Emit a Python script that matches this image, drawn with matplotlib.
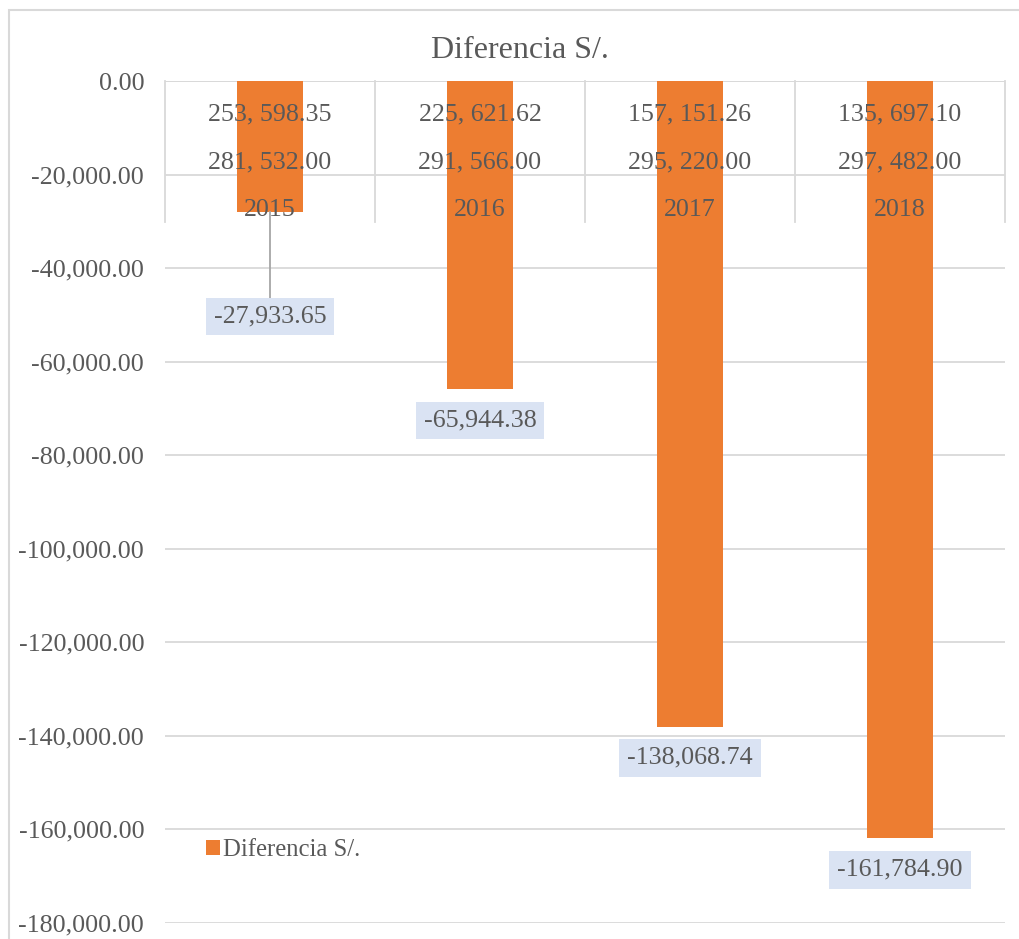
import matplotlib
matplotlib.use("Agg")
import matplotlib.pyplot as plt
from matplotlib.patches import Rectangle

plt.rcParams['font.family'] = ['Liberation Serif', 'DejaVu Serif']

# data
years = ["2015", "2016", "2017", "2018"]
row1 = ["253, 598.35", "225, 621.62", "157, 151.26", "135, 697.10"]
row2 = ["281, 532.00", "291, 566.00", "295, 220.00", "297, 482.00"]
diferencia = [-27933.65, -65944.38, -138068.74, -161784.90]
yticks = [0, -20000, -40000, -60000, -80000, -100000, -120000, -140000, -160000, -180000]

# layout (pixels)
W, H = 1020, 939
left, right, top, bottom = 165, 1005, 81, 923
label_drop = [105, 31, 31, 32]   # label centre below bar end
gray_txt = "#595959"
grid_c = "#D9D9D9"
orange = "#ED7D31"
fs = 18.7

fig = plt.figure(figsize=(W / 100, H / 100), dpi=100)
ax = fig.add_axes([left / W, 1 - bottom / H, (right - left) / W, (bottom - top) / H])

ax.set_ylim(-180000, 0)
ax.set_xlim(-0.5, 3.5)
px = 180000 / (bottom - top)  # data units per pixel

x = list(range(len(years)))
ax.bar(x, diferencia, width=0.314, color=orange, zorder=2, label="Diferencia S/.")

ax.set_yticks(yticks)
ax.set_yticklabels(["{:,.2f}".format(v) for v in yticks], fontsize=fs, color=gray_txt)
ax.tick_params(axis='y', length=0, pad=15)
ax.set_xticks([])
ax.grid(axis='y', color=grid_c, linewidth=1.3, zorder=0)
for s in ax.spines.values():
    s.set_visible(False)
ax.axhline(0, color=grid_c, linewidth=1.3, zorder=1)

# multi-level category table at the top
for xv in [-0.5, 0.5, 1.5, 2.5, 3.5]:
    ax.plot([xv, xv], [0, -141 * px], color=grid_c, linewidth=1.3, zorder=1, clip_on=False)
for i in x:
    ax.text(i, -33 * px, row1[i], ha='center', va='center', fontsize=fs, color=gray_txt, zorder=3)
    ax.text(i, -81 * px, row2[i], ha='center', va='center', fontsize=fs, color=gray_txt, zorder=3)
    ax.text(i, -129 * px, years[i], ha='center', va='center', fontsize=fs, color=gray_txt, zorder=3)

# data labels
for i, v in enumerate(diferencia):
    ly = v - label_drop[i] * px
    if label_drop[i] > 40:
        ax.plot([i, i], [v, ly + 19 * px], color="#A6A6A6", linewidth=1.3, zorder=3)
    ax.text(i, ly, "{:,.2f}".format(v), ha='center', va='center', fontsize=fs, color=gray_txt,
            zorder=4, bbox=dict(boxstyle='square,pad=0.3', fc="#DAE3F3", ec='none'))

fig.text(520 / W, 1 - 51 / H, "Diferencia S/.", ha='center', va='center', fontsize=23, color=gray_txt)

ax.legend(loc='center left', bbox_to_anchor=(206 / W, 1 - 850 / H), bbox_transform=fig.transFigure,
          frameon=False, fontsize=17.8, labelcolor=gray_txt, handlelength=0.55, handleheight=0.55,
          handletextpad=0.15, borderpad=0, borderaxespad=0)

fig.patches.append(Rectangle((9 / W, -0.1), 1.2, 1 - 10 / H + 0.1, transform=fig.transFigure,
                             fill=False, edgecolor=grid_c, linewidth=1.5))

fig.savefig("out.png", dpi=100)
